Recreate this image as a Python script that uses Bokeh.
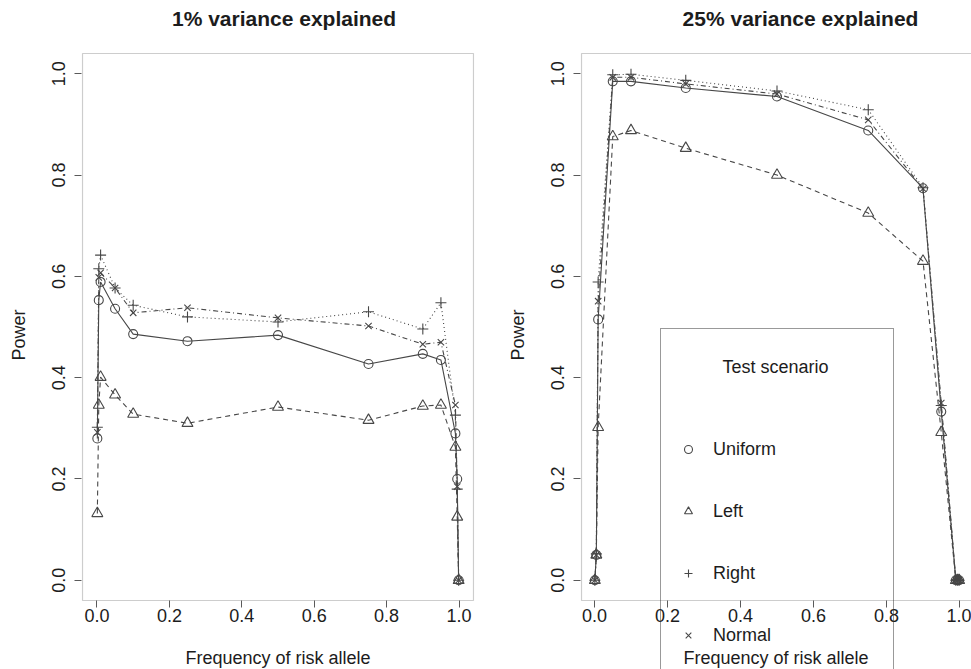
from bokeh.plotting import figure
from bokeh.layouts import row
from bokeh.models import (Legend, LegendItem, Label, FixedTicker, PrintfTickFormatter,
                          Range1d, BoxAnnotation)
from bokeh.embed import file_html
from bokeh.resources import INLINE

# ---- data ----
freq = [0.001, 0.005, 0.01, 0.05, 0.1, 0.25, 0.5, 0.75, 0.9, 0.95, 0.99, 0.995, 0.999]

# 1% variance explained
p1_uniform = [0.280, 0.553, 0.589, 0.536, 0.486, 0.472, 0.484, 0.427, 0.447, 0.435, 0.290, 0.200, 0.0]
p1_left    = [0.132, 0.346, 0.401, 0.366, 0.328, 0.310, 0.342, 0.316, 0.344, 0.346, 0.263, 0.125, 0.0]
p1_right   = [0.302, 0.615, 0.642, 0.577, 0.543, 0.520, 0.510, 0.530, 0.496, 0.548, 0.326, 0.180, 0.0]
p1_normal  = [0.292, 0.598, 0.607, 0.577, 0.528, 0.538, 0.518, 0.502, 0.466, 0.470, 0.346, 0.185, 0.0]

# 25% variance explained
p2_uniform = [0.0, 0.050, 0.515, 0.985, 0.985, 0.972, 0.955, 0.888, 0.774, 0.333, 0.0, 0.0, 0.0]
p2_left    = [0.0, 0.050, 0.302, 0.876, 0.888, 0.853, 0.800, 0.725, 0.630, 0.292, 0.0, 0.0, 0.0]
p2_right   = [0.0, 0.052, 0.589, 0.998, 0.999, 0.987, 0.966, 0.929, 0.775, 0.345, 0.0, 0.0, 0.0]
p2_normal  = [0.0, 0.050, 0.551, 0.993, 0.993, 0.980, 0.960, 0.909, 0.773, 0.350, 0.0, 0.0, 0.0]

scenarios = ["Uniform", "Left", "Right", "Normal"]
titles = ["1% variance explained", "25% variance explained"]
x_label = "Frequency of risk allele"
y_label = "Power"
legend_title = "Test scenario"
ticks = [0.0, 0.2, 0.4, 0.6, 0.8, 1.0]

# ---- styling ----
FONT = "Liberation Sans"
LINE_COL = "#474747"
TEXT_COL = "#1c1c1c"
BOX_COL = "#5a5a5a"
FS = "18px"
styles = {
    "Uniform": dict(marker="circle", size=9, dash="solid"),
    "Left": dict(marker="triangle", size=11, dash="5 4"),
    "Right": dict(marker="cross", size=11, dash="1 3"),
    "Normal": dict(marker="x", size=9, dash="1 3 5 3"),
}

# vertical pixel scale shared by both panels (box: y=53 .. 600 px  <->  1.04 .. -0.04)
PXY = 506.5


def vy(px):
    """data value of a vertical pixel position"""
    return 1.04 - (px - 53) / PXY


def style_axis(ax):
    ax.ticker = FixedTicker(ticks=ticks)
    ax.formatter = PrintfTickFormatter(format="%.1f")
    ax.axis_line_color = None
    ax.major_tick_line_color = BOX_COL
    ax.major_tick_out = 7
    ax.major_tick_in = 0
    ax.minor_tick_line_color = None
    ax.major_label_text_font = FONT
    ax.major_label_text_font_size = FS
    ax.major_label_text_color = TEXT_COL
    ax.axis_label_text_font = FONT
    ax.axis_label_text_font_size = FS
    ax.axis_label_text_font_style = "normal"
    ax.axis_label_text_color = TEXT_COL


def make_panel(title, title_x, series, width, frame_left, frame_right, px_per_x, x0_px):
    """frame spans the full page height; the box is an annotation and the x axis sits on it"""
    xs = (frame_left - x0_px) / px_per_x
    xe = (frame_right - x0_px) / px_per_x
    p = figure(width=width, height=669, output_backend="svg", toolbar_location=None,
               x_range=Range1d(xs, xe), y_range=Range1d(vy(669), vy(0)),
               min_border_left=frame_left, min_border_right=width - frame_right,
               min_border_top=0, min_border_bottom=0)
    p.background_fill_color = "white"
    p.border_fill_color = "white"
    p.grid.visible = False
    p.outline_line_color = None

    xa, ya = p.xaxis[0], p.yaxis[0]
    style_axis(xa)
    style_axis(ya)
    xa.fixed_location = -0.04
    xa.axis_label = x_label
    xa.major_label_standoff = 1
    xa.axis_label_standoff = 23
    ya.axis_label = y_label
    ya.major_label_orientation = "vertical"
    ya.major_label_standoff = 9
    ya.axis_label_standoff = 21

    box_left = (frame_left + 1 - x0_px) / px_per_x
    p.add_layout(BoxAnnotation(left=box_left, right=-box_left + 1.0, top=1.04, bottom=-0.04,
                               fill_alpha=0, fill_color=None, line_color=BOX_COL, line_width=1.2))
    p.add_layout(Label(x=title_x, y=vy(18), text=title, text_align="center",
                       text_baseline="middle", text_font=FONT, text_font_size="21px",
                       text_font_style="bold", text_color=TEXT_COL))

    markers = {}
    for name, vals in zip(scenarios, series):
        st = styles[name]
        p.line(freq, vals, line_color=LINE_COL, line_width=1.1, line_dash=st["dash"])
        markers[name] = p.scatter(freq, vals, marker=st["marker"], size=st["size"],
                                  line_color=LINE_COL, line_width=1.1, fill_color=None)
    return p, markers


# left panel: box x 82..473 px, 0.0 at 96.48 px; frame 81..474
p1, _ = make_panel(titles[0], 0.5166, [p1_uniform, p1_left, p1_right, p1_normal],
                   485, 81, 474, 362.04, 96.48)
# right panel (page x 485..971): box from 581 px, 0.0 at 594 px; frame 580..971
p2, m2 = make_panel(titles[1], 0.5644, [p2_uniform, p2_left, p2_right, p2_normal],
                    486, 95, 486, 365.0, 109.0)

items = [LegendItem(label=n, renderers=[m2[n]]) for n in scenarios]
legend = Legend(items=items, location=(80, -6), title=legend_title,
                title_text_alpha=0, title_text_font=FONT, title_text_font_size=FS,
                title_standoff=60, padding=17, spacing=18, margin=0,
                glyph_width=20, glyph_height=44, label_height=44, label_width=163,
                label_standoff=15, label_text_font=FONT, label_text_font_size=FS,
                label_text_color=TEXT_COL, border_line_color="#333333", border_line_width=1,
                background_fill_alpha=0)
p2.add_layout(legend)
p2.add_layout(Label(x=181 / 365.0, y=vy(366), text=legend_title, text_align="center",
                    text_baseline="middle", text_font=FONT, text_font_size=FS,
                    text_color=TEXT_COL))

layout = row(p1, p2)
open("out.html", "w").write(file_html(layout, INLINE))
